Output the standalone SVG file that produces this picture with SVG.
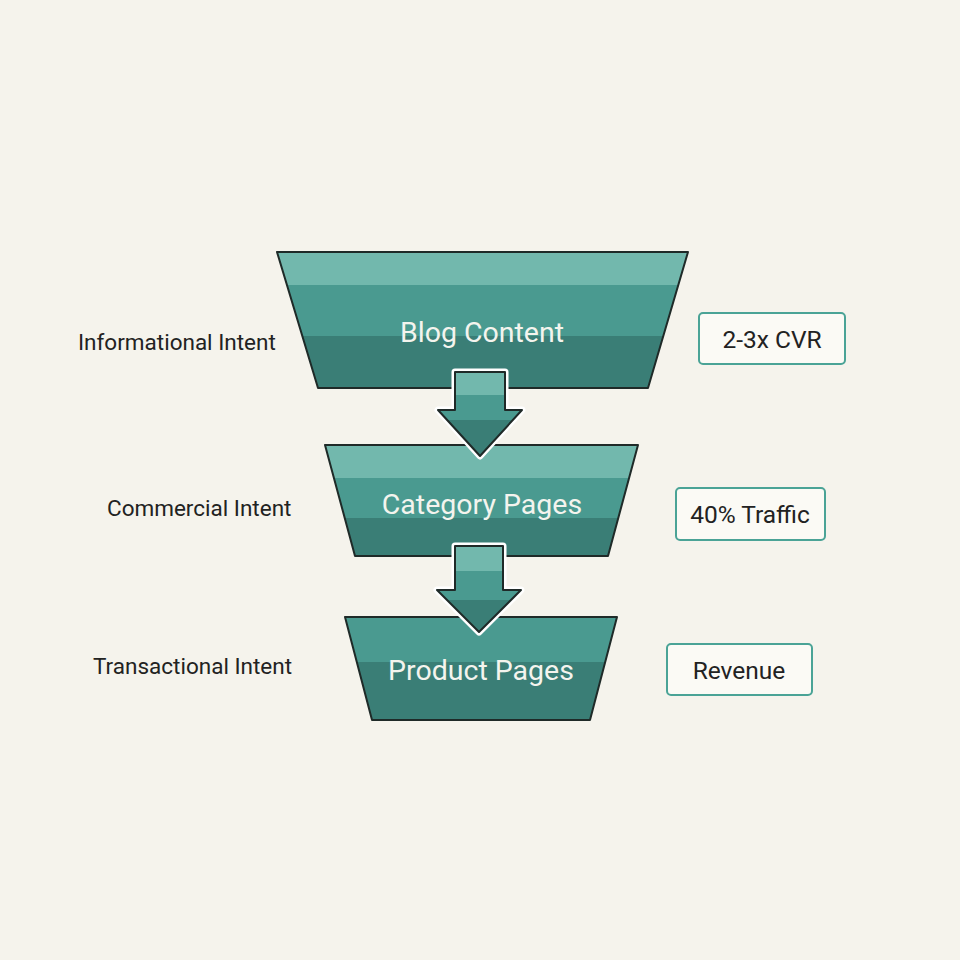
<svg xmlns="http://www.w3.org/2000/svg" width="960" height="960" viewBox="0 0 960 960">
<defs>
<style>
.lbl{font-family:"Roboto","Liberation Sans",sans-serif;font-size:22.5px;fill:#222}
.t{font-family:"Roboto","Liberation Sans",sans-serif;font-size:28.5px;fill:#f4f4ee;text-anchor:middle}
.box{fill:#fbfaf5;stroke:#4aa396;stroke-width:2}
.bt{font-family:"Roboto","Liberation Sans",sans-serif;font-size:24.5px;fill:#222;text-anchor:middle}
.ol{fill:none;stroke:#1f2a28;stroke-width:2;stroke-linejoin:round}
</style>
<clipPath id="c1"><path d="M277,252 L688,252 L648,388 L318,388 Z"/></clipPath>
<clipPath id="c2"><path d="M325,445 L638,445 L608,556 L355,556 Z"/></clipPath>
<clipPath id="c3"><path d="M345,617 L617,617 L590,720 L372,720 Z"/></clipPath>
<clipPath id="a1"><path d="M455,372 L505,372 L505,410 L522,410 L480,456 L438,410 L455,410 Z"/></clipPath>
<clipPath id="a2"><path d="M455,546 L503,546 L503,590 L521,590 L479,632 L437,590 L455,590 Z"/></clipPath>
</defs>
<rect width="960" height="960" fill="#f5f3ec"/>
<g id="node1">
<g clip-path="url(#c1)">
<rect x="270" y="250" width="430" height="36" fill="#72b8ad"/>
<rect x="270" y="285" width="430" height="52" fill="#4a9a90"/>
<rect x="270" y="336" width="430" height="55" fill="#3a7e76"/>
</g>
<path class="ol" d="M277,252 L688,252 L648,388 L318,388 Z"/>
<text class="t" x="482" y="342">Blog Content</text>
</g>
<g id="node2">
<g clip-path="url(#c2)">
<rect x="320" y="443" width="330" height="36" fill="#72b8ad"/>
<rect x="320" y="478" width="330" height="41" fill="#4a9a90"/>
<rect x="320" y="518" width="330" height="40" fill="#3a7e76"/>
</g>
<path class="ol" d="M325,445 L638,445 L608,556 L355,556 Z"/>
<text class="t" x="482" y="514">Category Pages</text>
</g>
<g id="node3">
<g clip-path="url(#c3)">
<rect x="340" y="615" width="290" height="48" fill="#4a9a90"/>
<rect x="340" y="662" width="290" height="60" fill="#3a7e76"/>
</g>
<path class="ol" d="M345,617 L617,617 L590,720 L372,720 Z"/>
<text class="t" x="481" y="680">Product Pages</text>
</g>
<g id="connectors">
<path d="M455,372 L505,372 L505,410 L522,410 L480,456 L438,410 L455,410 Z" fill="none" stroke="#fff" stroke-width="7" stroke-linejoin="round"/>
<g clip-path="url(#a1)">
<rect x="430" y="370" width="100" height="26" fill="#72b8ad"/>
<rect x="430" y="395" width="100" height="26" fill="#4a9a90"/>
<rect x="430" y="420" width="100" height="40" fill="#3a7e76"/>
</g>
<path class="ol" d="M455,372 L505,372 L505,410 L522,410 L480,456 L438,410 L455,410 Z"/>
<path d="M455,546 L503,546 L503,590 L521,590 L479,632 L437,590 L455,590 Z" fill="none" stroke="#fff" stroke-width="7" stroke-linejoin="round"/>
<g clip-path="url(#a2)">
<rect x="430" y="544" width="100" height="28" fill="#72b8ad"/>
<rect x="430" y="571" width="100" height="30" fill="#4a9a90"/>
<rect x="430" y="600" width="100" height="36" fill="#3a7e76"/>
</g>
<path class="ol" d="M455,546 L503,546 L503,590 L521,590 L479,632 L437,590 L455,590 Z"/>
</g>
<g id="labels">
<text class="lbl" x="78" y="350">Informational Intent</text>
<text class="lbl" x="107" y="516">Commercial Intent</text>
<text class="lbl" x="93" y="674">Transactional Intent</text>
</g>
<g id="box1"><rect class="box" x="699" y="313" width="146" height="51" rx="4"/><text class="bt" x="772" y="348">2-3x CVR</text></g>
<g id="box2"><rect class="box" x="676" y="488" width="149" height="52" rx="4"/><text class="bt" x="750" y="523">40% Traffic</text></g>
<g id="box3"><rect class="box" x="667" y="644" width="145" height="51" rx="4"/><text class="bt" x="739" y="679">Revenue</text></g>
</svg>
